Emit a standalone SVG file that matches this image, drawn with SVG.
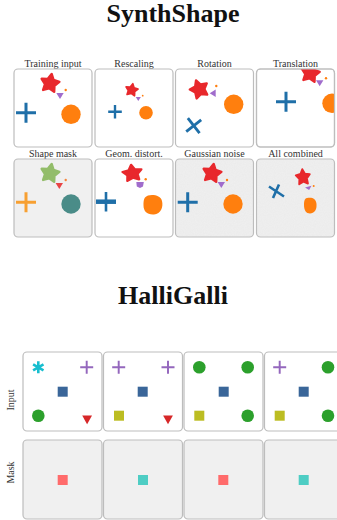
<svg xmlns="http://www.w3.org/2000/svg" width="337" height="520" viewBox="0 0 337 520">
<style>
.title{font-family:"Liberation Serif",serif;font-weight:bold;font-size:26px;fill:#111;text-anchor:middle}
.lbl{font-family:"Liberation Serif",serif;font-size:10px;fill:#333;text-anchor:middle}
.box{fill:#fff;stroke:#bdbdbd;stroke-width:1.2}
.gbox{fill:#f0f0f0;stroke:#bdbdbd;stroke-width:1.2}
.star{fill:#e8282c;stroke:#e8282c;stroke-width:2.4;stroke-linejoin:round}
.tri{fill:#a06ccc}
.dot{fill:#ff7f0e}
.circ{fill:#ff7f0e}
.plus{stroke:#1f6fa8;stroke-width:3;fill:none}
.hp{stroke:#9467bd;stroke-width:2;fill:none}
</style>
<defs>
<path id="star" d="M0,-9.5 L2.9,-4 L9,-3 L4.8,1.6 L5.6,7.7 L0,5 L-5.6,7.7 L-4.8,1.6 L-9,-3 L-2.9,-4Z"/>
<path id="plusP" d="M-10,0H10M0,-10V10"/>
<path id="triP" d="M-3.7,-3 L3.7,-3 L0,3Z"/>
<clipPath id="c4"><rect x="256.5" y="69" width="78" height="78" rx="4"/></clipPath>
<filter id="noise" x="0" y="0" width="1" height="1">
<feTurbulence type="fractalNoise" baseFrequency="0.9" numOctaves="1" seed="3" result="t"/>
<feColorMatrix in="t" type="matrix" values="0 0 0 0 0.6  0 0 0 0 0.6  0 0 0 0 0.6  0 0 0 0.16 0"/>
<feComposite in2="SourceGraphic" operator="in"/>
</filter>
</defs>

<text class="title" x="173" y="22">SynthShape</text>

<g id="p-training">
<text class="lbl" x="53" y="67">Training input</text>
<rect class="box" x="14" y="69" width="78" height="78" rx="4"/>
<use href="#star" class="star" transform="translate(50,83.3) rotate(10)"/>
<use href="#triP" class="tri" transform="translate(60,96)"/>
<circle class="dot" cx="65.7" cy="90" r="1.2"/>
<use href="#plusP" class="plus" transform="translate(26,112.7)"/>
<circle class="circ" cx="71" cy="114.3" r="9.7"/>
</g>

<g id="p-rescaling">
<text class="lbl" x="134" y="67">Rescaling</text>
<rect class="box" x="95" y="69" width="78" height="78" rx="4"/>
<use href="#star" class="star" transform="translate(131.7,90) scale(0.68) rotate(10)"/>
<use href="#triP" class="tri" transform="translate(138.3,99) scale(0.7)"/>
<circle class="dot" cx="142.7" cy="95.7" r="0.9"/>
<use href="#plusP" class="plus" transform="translate(115,111.7) scale(0.68)" style="stroke-width:3.5"/>
<circle class="circ" cx="146" cy="112.7" r="6.8"/>
</g>

<g id="p-rotation">
<text class="lbl" x="214.5" y="67">Rotation</text>
<rect class="box" x="175.5" y="69" width="78" height="78" rx="4"/>
<use href="#star" class="star" transform="translate(199.3,89.3) rotate(-20)"/>
<use href="#triP" class="tri" transform="translate(212.7,93.3) rotate(90)"/>
<circle class="dot" cx="216.3" cy="86" r="1.2"/>
<use href="#plusP" class="plus" transform="translate(193.7,125.7) rotate(-38) scale(0.95)"/>
<circle class="circ" cx="233.7" cy="104.3" r="9.7"/>
</g>

<g id="p-translation">
<text class="lbl" x="295.5" y="67">Translation</text>
<rect class="box" x="256.5" y="69" width="78" height="78" rx="4"/>
<g clip-path="url(#c4)">
<use href="#star" class="star" transform="translate(310.3,73.3) rotate(10)"/>
<use href="#triP" class="tri" transform="translate(319.7,83.3)"/>
<circle class="dot" cx="326" cy="78.3" r="1.2"/>
<use href="#plusP" class="plus" transform="translate(286,101.7)"/>
<circle class="circ" cx="332" cy="103.3" r="9.7"/>
</g>
<rect x="256.5" y="69" width="78" height="78" rx="4" fill="none" stroke="#bdbdbd" stroke-width="1.2"/>
</g>

<g id="p-mask">
<text class="lbl" x="53" y="157">Shape mask</text>
<rect class="gbox" x="14" y="159" width="78" height="78" rx="4"/>
<use href="#star" transform="translate(50,173.3) rotate(10)" style="fill:#93bd6a;stroke:#93bd6a;stroke-width:2.4;stroke-linejoin:round"/>
<use href="#triP" transform="translate(59.3,186)" fill="#e84545"/>
<circle cx="65.7" cy="180" r="1.2" fill="#f5853a"/>
<use href="#plusP" class="plus" transform="translate(26,202.3)" style="stroke:#f7a032"/>
<circle cx="71" cy="204" r="9.7" fill="#4a8c88"/>
</g>

<g id="p-geom">
<text class="lbl" x="134" y="157">Geom. distort.</text>
<rect class="box" x="95" y="159" width="78" height="78" rx="4"/>
<use href="#star" class="star" transform="translate(132.3,173.3) rotate(-8) scale(1.05,0.9)"/>
<path d="M136.3,182 L143.8,182 L143,186.5 L140,188 L136.8,186.5Z" class="tri"/>
<circle class="dot" cx="145.7" cy="179.3" r="1.2"/>
<path d="M96,201.7H116" stroke="#1f6fa8" stroke-width="4.5" fill="none"/>
<path d="M106,192V211.5" stroke="#1f6fa8" stroke-width="2.6" fill="none"/>
<path d="M148,195.5 C153,194 161,195.5 162,201 C163.5,207 161,214 154,214.5 C147,215 143.5,211 143.5,205.5 C143.5,200 144,197 148,195.5Z" class="circ"/>
</g>

<g id="p-gauss">
<text class="lbl" x="214.5" y="157">Gaussian noise</text>
<rect class="gbox" x="175.5" y="159" width="78" height="78" rx="4"/>
<rect x="176" y="159.5" width="77" height="77" rx="4" fill="#fff" filter="url(#noise)"/>
<use href="#star" class="star" transform="translate(212,173.3) rotate(10)"/>
<use href="#triP" class="tri" transform="translate(221.3,185)"/>
<circle class="dot" cx="227" cy="180" r="1.2"/>
<use href="#plusP" class="plus" transform="translate(187.7,202.3)"/>
<circle class="circ" cx="233" cy="204" r="9.7"/>
</g>

<g id="p-all">
<text class="lbl" x="295.5" y="157">All combined</text>
<rect class="gbox" x="256.5" y="159" width="78" height="78" rx="4"/>
<rect x="257" y="159.5" width="77" height="77" rx="4" fill="#fff" filter="url(#noise)"/>
<use href="#star" class="star" transform="translate(303,177.3) rotate(-5) scale(0.78,0.85)"/>
<use href="#triP" class="tri" transform="translate(308.7,188.3) rotate(-15) scale(0.9,0.6)"/>
<circle class="dot" cx="313.7" cy="186" r="1"/>
<path d="M269,186.5 L284,196.5 M273,198 L279,184.5" stroke="#1f6fa8" stroke-width="2.6" fill="none"/>
<path d="M307,198 C312,197 316,198.5 316.5,204 C317,210 314,213.5 310,213.5 C306,213.5 304,210 304,205 C304,201 304.5,198.5 307,198Z" class="circ"/>
</g>

<text class="title" x="173" y="304">HalliGalli</text>

<text class="lbl" transform="translate(14,400) rotate(-90)">Input</text>
<text class="lbl" transform="translate(14,472.5) rotate(-90)">Mask</text>

<g id="h-in1">
<rect class="box" x="23" y="352" width="79" height="79" rx="4"/>
<g stroke="#17becf" stroke-width="2.6" transform="translate(38.3,367.3)">
<path d="M0,-6V6M-5.2,-3L5.2,3M-5.2,3L5.2,-3"/>
</g>
<use href="#plusP" class="hp" transform="translate(86.7,367.3) scale(0.65)" style="stroke-width:3"/>
<rect x="57.7" y="386.7" width="10" height="10" fill="#3a6699"/>
<circle cx="38.3" cy="415.7" r="6.3" fill="#2ca02c"/>
<path d="M82.2,415.5 H92 L87.1,424.3Z" fill="#d62728"/>
</g>

<g id="h-in2">
<rect class="box" x="103.5" y="352" width="79" height="79" rx="4"/>
<use href="#plusP" class="hp" transform="translate(118.7,367.3) scale(0.65)" style="stroke-width:3"/>
<use href="#plusP" class="hp" transform="translate(168,367.3) scale(0.65)" style="stroke-width:3"/>
<rect x="137.7" y="386.7" width="10" height="10" fill="#3a6699"/>
<rect x="114" y="410.7" width="10" height="10" fill="#bcbd22"/>
<path d="M163.1,415.5 H172.9 L168,424.3Z" fill="#d62728"/>
</g>

<g id="h-in3">
<rect class="box" x="184" y="352" width="79" height="79" rx="4"/>
<circle cx="199.3" cy="367.3" r="6.3" fill="#2ca02c"/>
<circle cx="247.7" cy="367.3" r="6.3" fill="#2ca02c"/>
<rect x="218.7" y="386.7" width="10" height="10" fill="#3a6699"/>
<rect x="194.3" y="410.7" width="10" height="10" fill="#bcbd22"/>
<circle cx="247.7" cy="415.7" r="6.3" fill="#2ca02c"/>
</g>

<g id="h-in4">
<rect class="box" x="264.5" y="352" width="79" height="79" rx="4"/>
<use href="#plusP" class="hp" transform="translate(279.7,367.3) scale(0.65)" style="stroke-width:3"/>
<circle cx="328" cy="367.3" r="6.3" fill="#2ca02c"/>
<rect x="298.7" y="386.7" width="10" height="10" fill="#3a6699"/>
<rect x="274.7" y="410.7" width="10" height="10" fill="#bcbd22"/>
<circle cx="328" cy="415.7" r="6.3" fill="#2ca02c"/>
</g>

<g id="h-m1">
<rect class="gbox" x="23" y="440" width="79" height="79" rx="4"/>
<rect x="57.7" y="475" width="10" height="10" fill="#ff6b6b"/>
</g>
<g id="h-m2">
<rect class="gbox" x="103.5" y="440" width="79" height="79" rx="4"/>
<rect x="138" y="475" width="10" height="10" fill="#4ecdc4"/>
</g>
<g id="h-m3">
<rect class="gbox" x="184" y="440" width="79" height="79" rx="4"/>
<rect x="218.3" y="475" width="10" height="10" fill="#ff6b6b"/>
</g>
<g id="h-m4">
<rect class="gbox" x="264.5" y="440" width="79" height="79" rx="4"/>
<rect x="298.7" y="475" width="10" height="10" fill="#4ecdc4"/>
</g>
<g id="connectors"/>
</svg>
